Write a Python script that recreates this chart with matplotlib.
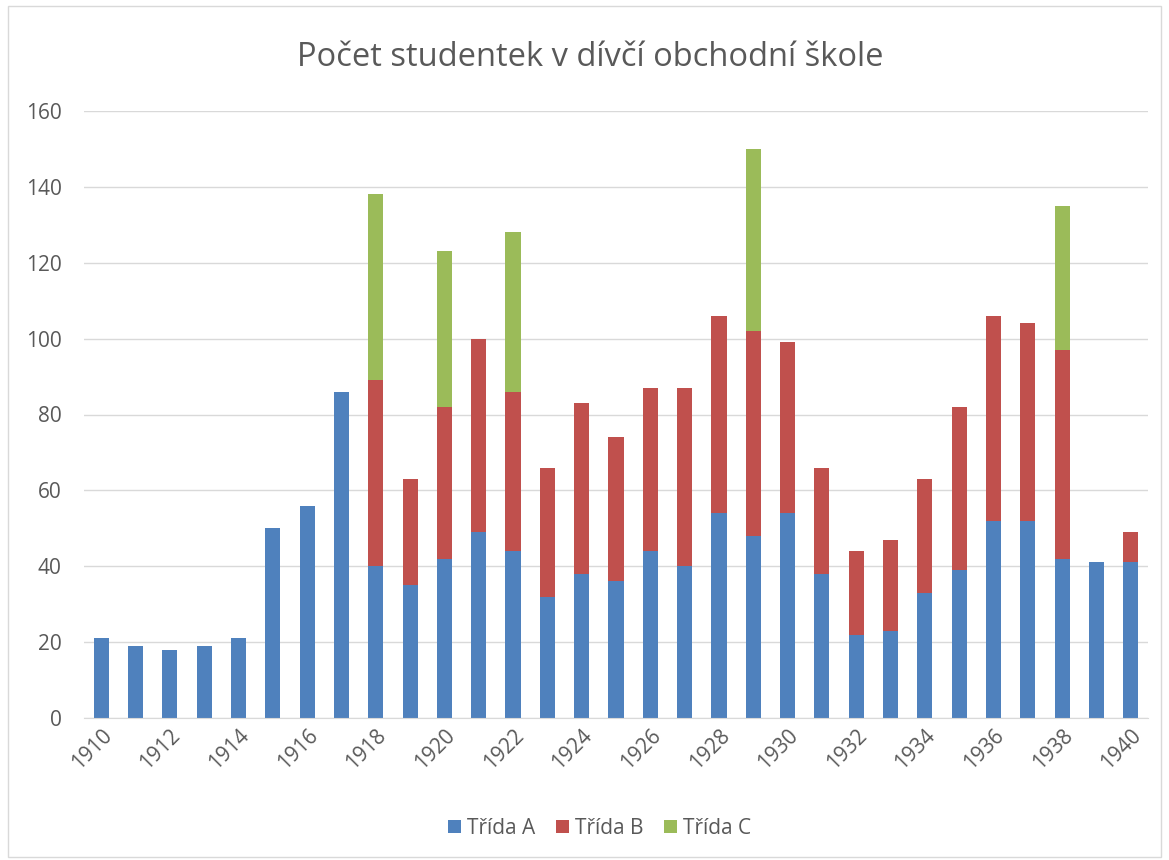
import numpy as np
import matplotlib.pyplot as plt
from matplotlib.patches import Rectangle

years = list(range(1910, 1941))
trida_a = [21, 19, 18, 19, 21, 50, 56, 86, 40, 35, 42, 49, 44, 32, 38, 36,
           44, 40, 54, 48, 54, 38, 22, 23, 33, 39, 52, 52, 42, 41, 41]
trida_b = [0, 0, 0, 0, 0, 0, 0, 0, 49, 28, 40, 51, 42, 34, 45, 38,
           43, 47, 52, 54, 45, 28, 22, 24, 30, 43, 54, 52, 55, 0, 8]
trida_c = [0, 0, 0, 0, 0, 0, 0, 0, 49, 0, 41, 0, 42, 0, 0, 0,
           0, 0, 0, 48, 0, 0, 0, 0, 0, 0, 0, 0, 38, 0, 0]

text_col = '#595959'
plt.rcParams['font.family'] = ['Open Sans', 'DejaVu Sans']

fig = plt.figure(figsize=(11.69, 8.60), dpi=100)
ax = fig.add_axes([84 / 1169, 1 - 718 / 860, (1148 - 84) / 1169, (718 - 111) / 860])

x = np.arange(len(years))
a = np.array(trida_a)
b = np.array(trida_b)
c = np.array(trida_c)
w = 0.44
ax.bar(x, a, w, color='#4F81BD', label='Třída A', zorder=3)
ax.bar(x, b, w, bottom=a, color='#C0504D', label='Třída B', zorder=3)
ax.bar(x, c, w, bottom=a + b, color='#9BBB59', label='Třída C', zorder=3)

ax.set_xlim(-0.5, len(years) - 0.5)
ax.set_ylim(0, 160)
ax.set_yticks(range(0, 161, 20))
ax.yaxis.grid(True, color='#D9D9D9', linewidth=1, zorder=0)
for s in ['top', 'right', 'left']:
    ax.spines[s].set_visible(False)
ax.spines['bottom'].set_color('#D9D9D9')
ax.spines['bottom'].set_zorder(4)
ax.tick_params(axis='y', length=0, pad=16, labelsize=15, labelcolor=text_col)
ax.tick_params(axis='x', length=0, pad=5, labelsize=15, labelcolor=text_col)
ax.set_xticks(x[::2])
ax.set_xticklabels([str(y) for y in years[::2]], rotation=45, ha='right',
                   rotation_mode='anchor')

fig.text(0.505, 1 - 58 / 860, 'Počet studentek v dívčí obchodní škole',
         ha='center', va='center', fontsize=23.5, color=text_col)

leg = fig.legend(loc='center', bbox_to_anchor=(0.513, 1 - 828 / 860), ncol=3,
                 frameon=False, fontsize=15, handlelength=0.6, handleheight=0.6,
                 handletextpad=0.3, columnspacing=1.0)
for t in leg.get_texts():
    t.set_color(text_col)

fig.patches.append(Rectangle((8 / 1169, 1 - 857 / 860), 1153 / 1169, 851 / 860,
                             transform=fig.transFigure, fill=False,
                             edgecolor='#D9D9D9', linewidth=1))

fig.savefig('out.png', dpi=100)
